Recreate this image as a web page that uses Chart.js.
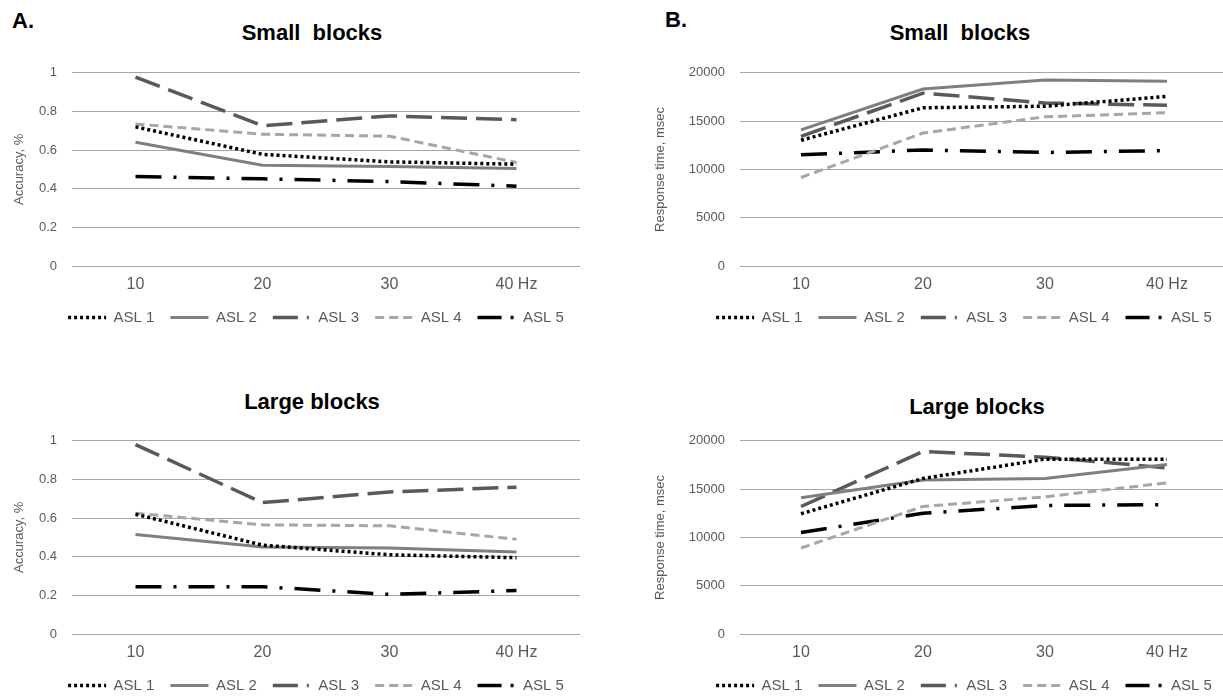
<!DOCTYPE html>
<html>
<head>
<meta charset="utf-8">
<script src="https://cdn.jsdelivr.net/npm/chart.js@4.4.0/dist/chart.umd.min.js"></script>
<style>
    html, body {
        margin: 0;
        padding: 0;
        background: #fff;
        width: 1223px;
        height: 696px;
        overflow: hidden;
        position: relative;
        font-family: "Liberation Sans", Arial, sans-serif;
    }
    canvas { position: absolute; }
    .title {
        position: absolute;
        width: 300px;
        text-align: center;
        font-weight: bold;
        font-size: 22px;
        line-height: 26px;
        white-space: pre;
        color: #000;
    }
    .letter {
        position: absolute;
        font-weight: bold;
        font-size: 22px;
        line-height: 26px;
        color: #000;
    }
</style>
</head>
<body>
<div class="letter" style="left:12px;top:8px">A.</div>
<div class="letter" style="left:665px;top:7px">B.</div>

<div class="title" style="left:162px;top:20px">Small  blocks</div>
<div class="title" style="left:810px;top:20px">Small  blocks</div>
<div class="title" style="left:162px;top:389px">Large blocks</div>
<div class="title" style="left:827px;top:394px">Large blocks</div>

<canvas id="accSmall" width="632" height="285" style="left:0;top:50px"></canvas>
<canvas id="rtSmall" width="648" height="285" style="left:640px;top:50px"></canvas>
<canvas id="accLarge" width="632" height="285" style="left:0;top:418px"></canvas>
<canvas id="rtLarge" width="648" height="285" style="left:640px;top:418px"></canvas>

<script>
// frequencies (x axis)
const freqs = ["10", "20", "30", "40 Hz"];
const seriesNames = ["ASL 1", "ASL 2", "ASL 3", "ASL 4", "ASL 5"];

// A. accuracy, small blocks
const accSmall1 = [0.72, 0.578, 0.539, 0.527];
const accSmall2 = [0.641, 0.522, 0.515, 0.505];
const accSmall3 = [0.978, 0.726, 0.777, 0.757];
const accSmall4 = [0.735, 0.682, 0.672, 0.536];
const accSmall5 = [0.463, 0.451, 0.437, 0.413];

// A. accuracy, large blocks
const accLarge1 = [0.62, 0.46, 0.41, 0.395];
const accLarge2 = [0.515, 0.45, 0.445, 0.425];
const accLarge3 = [0.98, 0.68, 0.735, 0.76];
const accLarge4 = [0.625, 0.565, 0.56, 0.49];
const accLarge5 = [0.245, 0.245, 0.205, 0.225];

// B. response time (msec), small blocks
const rtSmall1 = [13020, 16380, 16540, 17550];
const rtSmall2 = [14090, 18320, 19260, 19130];
const rtSmall3 = [13420, 17890, 16880, 16640];
const rtSmall4 = [9160, 13760, 15440, 15870];
const rtSmall5 = [11510, 12010, 11750, 11950];

// B. response time (msec), large blocks
const rtLarge1 = [12450, 16100, 18100, 18100];
const rtLarge2 = [14100, 15950, 16100, 17550];
const rtLarge3 = [13200, 18900, 18300, 17200];
const rtLarge4 = [8900, 13200, 14200, 15650];
const rtLarge5 = [10500, 12500, 13300, 13400];

// y axis ticks
const accTicks = { min: 0, max: 1, step: 0.2 };
const rtTicks = { min: 0, max: 20000, step: 5000 };

// line look for each ASL series (legend sample may use its own dash)
const lineStyles = [
    { color: "#000000", width: 3.5, dash: [3, 3], legendDash: [3, 3] },
    { color: "#7f7f7f", width: 3, dash: [], legendDash: [] },
    { color: "#595959", width: 3.5, dash: [26, 9], legendDash: [25, 9, 2, 9] },
    { color: "#a6a6a6", width: 3, dash: [9, 5], legendDash: [9, 5] },
    { color: "#000000", width: 3.5, dash: [26, 12, 3, 12], legendDash: [24, 9, 3, 9] }
];

const textColor = "#595959";
const gridColor = "#a6a6a6";

// legend items with the dashed line samples of the datasets
function legendItems(chart) {
    const base = Chart.defaults.plugins.legend.labels.generateLabels(chart);
    return base.map((item, i) => ({
        ...item,
        strokeStyle: lineStyles[i].color,
        fillStyle: lineStyles[i].color,
        lineWidth: lineStyles[i].width,
        lineDash: lineStyles[i].legendDash,
        lineCap: "butt",
        pointStyle: "line"
    }));
}

function drawPanel(canvasId, series, ticks, yTitle, yWidth, rightSpace, titlePad) {
    const ctx = document.getElementById(canvasId);
    if (!ctx) return;

    const datasets = series.map((data, i) => ({
        label: seriesNames[i],
        data,
        borderColor: lineStyles[i].color,
        backgroundColor: lineStyles[i].color,
        borderWidth: lineStyles[i].width,
        borderDash: lineStyles[i].dash,
        borderCapStyle: "butt",
        tension: 0,
        pointRadius: 0,
        fill: false
    }));

    return new Chart(ctx, {
        type: "line",
        data: { labels: freqs, datasets },
        options: {
            responsive: false,
            animation: false,
            layout: { padding: { top: 19, left: 0, right: 0, bottom: 0 } },
            plugins: {
                tooltip: { enabled: false },
                legend: {
                    position: "bottom",
                    labels: {
                        usePointStyle: true,
                        pointStyle: "line",
                        pointStyleWidth: 38,
                        padding: 16,
                        color: textColor,
                        font: { family: "Liberation Sans", size: 15 },
                        generateLabels: legendItems
                    }
                }
            },
            scales: {
                x: {
                    offset: true,
                    grid: { display: false, drawTicks: false },
                    border: { display: false },
                    ticks: {
                        padding: 11,
                        color: textColor,
                        font: { family: "Liberation Sans", size: 16, lineHeight: 1 }
                    },
                    afterFit: s => { s.height = 28; }
                },
                y: {
                    min: ticks.min,
                    max: ticks.max,
                    grid: { color: gridColor, lineWidth: 1, drawTicks: false },
                    border: { display: false },
                    ticks: {
                        stepSize: ticks.step,
                        padding: 15,
                        color: textColor,
                        font: { family: "Liberation Sans", size: 13 },
                        callback: v => String(Math.round(v * 1000) / 1000)
                    },
                    title: {
                        display: true,
                        text: yTitle,
                        color: textColor,
                        padding: { top: titlePad, bottom: 0 },
                        font: { family: "Liberation Sans", size: 13 }
                    },
                    afterFit: s => { s.width = yWidth; }
                },
                // empty space on the right so the legend sits where it should
                yRight: {
                    type: "linear",
                    position: "right",
                    grid: { display: false },
                    border: { display: false },
                    ticks: { display: false },
                    afterFit: s => { s.width = rightSpace; }
                }
            }
        }
    });
}

document.addEventListener("DOMContentLoaded", () => {
    drawPanel("accSmall", [accSmall1, accSmall2, accSmall3, accSmall4, accSmall5],
        accTicks, "Accuracy, %", 72, 52, 12);
    drawPanel("accLarge", [accLarge1, accLarge2, accLarge3, accLarge4, accLarge5],
        accTicks, "Accuracy, %", 72, 52, 12);
    drawPanel("rtSmall", [rtSmall1, rtSmall2, rtSmall3, rtSmall4, rtSmall5],
        rtTicks, "Response time, msec", 100, 60, 13);
    drawPanel("rtLarge", [rtLarge1, rtLarge2, rtLarge3, rtLarge4, rtLarge5],
        rtTicks, "Response time, msec", 100, 60, 13);
});
</script>
</body>
</html>
